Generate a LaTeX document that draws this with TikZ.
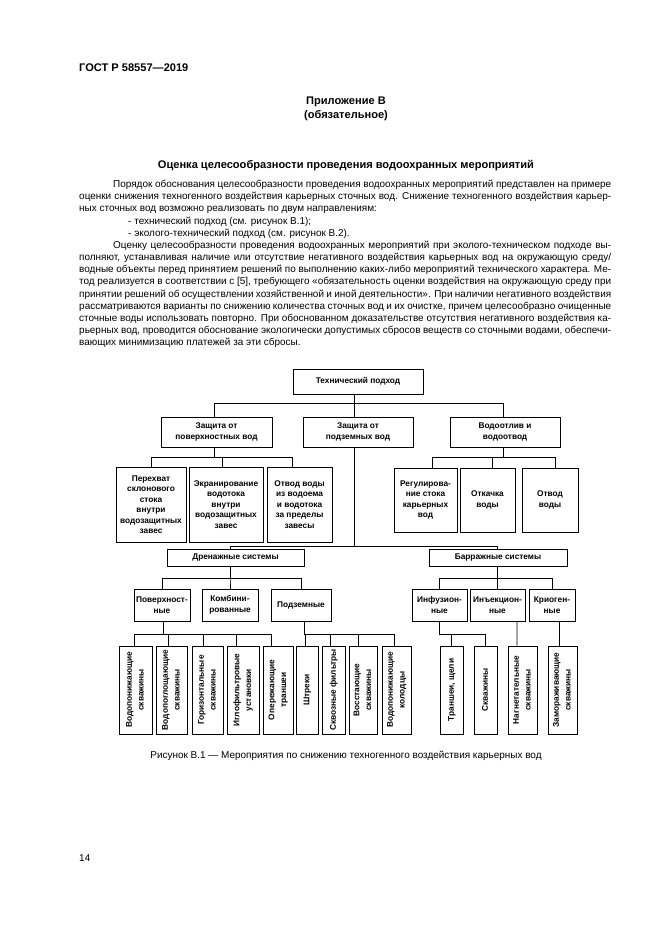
\documentclass[tikz,border=0pt]{standalone}
\usepackage{fontspec}
\setmainfont{Liberation Sans}
\usetikzlibrary{positioning,calc}

\newdimen\px \px=0.3177mm
\newcommand{\vlabel}[1]{\rotatebox{90}{\def\arraystretch{1.12}\begin{tabular}{@{}c@{}}#1\end{tabular}}}

\tikzset{
  box/.style={draw, line width=0.6pt, inner sep=0pt, align=center,
    font=\fontsize{7.5}{9.5}\selectfont\bfseries},
  sz/.style 2 args={minimum width=#1*\px, minimum height=#2*\px},
  link/.style={line width=0.6pt},
  page/.style={inner sep=0pt, font=\fontsize{9}{11}\selectfont},
  head/.style={inner sep=0pt, font=\fontsize{10}{12.6}\selectfont\bfseries},
}

\begin{document}
\begin{tikzpicture}[x=\px, y=-\px]
    \useasboundingbox (0,0) rectangle (661,935);

    % Page text
    \node[head, anchor=west] (gost) at (79,68) {ГОСТ Р 58557—2019};
    \node[head, align=center] (app) at (346,109) {Приложение В\\(обязательное)};
    \node[head] (title) at (346,166) {Оценка целесообразности проведения водоохранных мероприятий};
    \node[page, anchor=north west, text width=532\px, align=justify] (body) at (79,180) {%
      \hspace*{34\px}Порядок обоснования целесообразности проведения водоохранных мероприятий представлен на примере\linebreak
      оценки снижения техногенного воздействия карьерных сточных вод. Снижение техногенного воздействия карьер-\linebreak
      ных сточных вод возможно реализовать по двум направлениям:\par
      \hspace*{49\px}- технический подход (см. рисунок В.1);\par
      \hspace*{49\px}- эколого-технический подход (см. рисунок В.2).\par
      \hspace*{34\px}Оценку целесообразности проведения водоохранных мероприятий при эколого-техническом подходе вы-\linebreak
      полняют, устанавливая наличие или отсутствие негативного воздействия карьерных вод на окружающую среду/\linebreak
      водные объекты перед принятием решений по выполнению каких-либо мероприятий технического характера. Ме-\linebreak
      тод реализуется в соответствии с [5], требующего «обязательность оценки воздействия на окружающую среду при\linebreak
      принятии решений об осуществлении хозяйственной и иной деятельности». При наличии негативного воздействия\linebreak
      рассматриваются варианты по снижению количества сточных вод и их очистке, причем целесообразно очищенные\linebreak
      сточные воды использовать повторно. При обоснованном доказательстве отсутствия негативного воздействия ка-\linebreak
      рьерных вод, проводится обоснование экологически допустимых сбросов веществ со сточными водами, обеспечи-\linebreak
      вающих минимизацию платежей за эти сбросы.};

    % Levels 1 and 2
    \node[box, sz={130}{25}] (tech) at (358,381.5) {Технический подход};
    \node[box, sz={111}{30}] (zpov) at (216.5,432) {Защита от\\поверхностных вод};
    \node[box, sz={110}{30}] (zpod) at (358,432) {Защита от\\подземных вод};
    \node[box, sz={110}{30}] (vodo) at (505,432) {Водоотлив и\\водоотвод};

    % Level 3
    \node[box, sz={70}{75}] (L1) at (151,504.5) {Перехват\\склонового\\стока\\внутри\\водозащитных\\завес};
    \node[box, sz={74}{75}] (L2) at (226,504.5) {Экранирование\\водотока\\внутри\\водозащитных\\завес};
    \node[box, sz={65}{75}] (L3) at (299.5,504.5) {Отвод воды\\из водоема\\и водотока\\за пределы\\завесы};
    \node[box, sz={63}{64}] (R1) at (425.5,500) {Регулирова-\\ние стока\\карьерных\\вод};
    \node[box, sz={55}{64}] (R2) at (487.5,500) {Откачка\\воды};
    \node[box, sz={56}{64}] (R3) at (550,500) {Отвод\\воды};

    % Level 4 and 5
    \node[box, sz={137}{17}] (dren) at (235.5,557.5) {Дренажные системы};
    \node[box, sz={138}{17}] (barr) at (498,557.5) {Барражные системы};
    \node[box, sz={56}{32}] (pov) at (162,605) {Поверхност-\\ные};
    \node[box, sz={56}{32}] (komb) at (230,605) {Комбини-\\рованные};
    \node[box, sz={60}{32}] (podz) at (301,605) {Подземные};
    \node[box, sz={55}{32}] (inf) at (439.5,605) {Инфузион-\\ные};
    \node[box, sz={55}{32}] (inj) at (497.5,605) {Инъекцион-\\ные};
    \node[box, sz={46}{32}] (krio) at (552,605) {Криоген-\\ные};

    % Level 6 (vertical text)
    \node[box, sz={33}{88}] (v1) at (135.5,690) {\vlabel{Водопонижающие\\скважины}};
    \node[box, sz={31}{88}] (v2) at (171.5,690) {\vlabel{Водопоглощающие\\скважины}};
    \node[box, sz={31}{88}] (v3) at (207.5,690) {\vlabel{Горизонтальные\\скважины}};
    \node[box, sz={32}{88}] (v4) at (243,690) {\vlabel{Иглофильтровые\\установки}};
    \node[box, sz={30}{88}] (v5) at (278,690) {\vlabel{Опережающие\\траншеи}};
    \node[box, sz={22}{88}] (v6) at (307,690) {\vlabel{Штреки}};
    \node[box, sz={23}{88}] (v7) at (333.5,690) {\vlabel{Сквозные фильтры}};
    \node[box, sz={28}{88}] (v8) at (363,690) {\vlabel{Восстающие\\скважины}};
    \node[box, sz={29}{88}] (v9) at (396.5,690) {\vlabel{Водопонижающие\\колодцы}};
    \node[box, sz={23}{88}] (v10) at (451.5,690) {\vlabel{Траншеи, щели}};
    \node[box, sz={23}{88}] (v11) at (485.5,690) {\vlabel{Скважины}};
    \node[box, sz={29}{88}] (v12) at (522.5,690) {\vlabel{Нагнетательные\\скважины}};
    \node[box, sz={29}{88}] (v13) at (562.5,690) {\vlabel{Замораживающие\\скважины}};

    % Connectors
    \draw[link] ($(tech.south)+(-4,0)$) -- ++(0,9) -| ($(zpov.north)+(-2.5,0)$);
    \draw[link] ($(tech.south)+(-4,0)$) -- ($(zpod.north)+(-4,0)$);
    \draw[link] ($(tech.south)+(-4,0)$) -- ++(0,9) -| ($(vodo.north)+(-2,0)$);
    \foreach \n/\dx in {L1/0, L2/-4, L3/-7.5}
      \draw[link] ($(zpov.south)+(-2.5,0)$) -- ++(0,10) -| ($(\n.north)+(\dx,0)$);
    \foreach \n/\dx in {R1/6.5, R2/4.5, R3/5}
      \draw[link] ($(vodo.south)+(-2,0)$) -- ++(0,10) -| ($(\n.north)+(\dx,0)$);
    \foreach \n/\dx in {dren/-5.5, barr/-1}
      \draw[link] ($(zpod.south)+(-4,0)$) -- ++(0,99) -| ($(\n.north)+(\dx,0)$);
    \foreach \n in {pov, komb, podz}
      \draw[link] ($(dren.south)+(-5.5,0)$) -- ++(0,12) -| (\n.north);
    \foreach \n in {inf, inj, krio}
      \draw[link] ($(barr.south)+(-1,0)$) -- ++(0,12) -| (\n.north);
    \foreach \n/\dx in {v1/-1.5, v2/-3.5, v3/-4.5, v4/-7, v5/-7}
      \draw[link] ($(pov.south)+(1,0)$) -- ++(0,13) -| ($(\n.north)+(\dx,0)$);
    \foreach \n/\dx in {v6/-2, v7/-3.5, v8/-5, v9/-2.5}
      \draw[link] ($(podz.south)+(3,0)$) -- ++(0,13) -| ($(\n.north)+(\dx,0)$);
    \foreach \n in {v10, v11}
      \draw[link] (inf.south) -- ++(0,13) -| (\n.north);
    \draw[link] ($(inj.south)+(19.5,0)$) -- ($(v12.north)+(-5.5,0)$);
    \draw[link] ($(krio.south)+(7,0)$) -- ($(v13.north)+(-3.5,0)$);

    % Caption and page number
    \node[page] (cap) at (346,756) {Рисунок В.1 — Мероприятия по снижению техногенного воздействия карьерных вод};
    \node[page, anchor=west] (pnum) at (79,858) {14};
\end{tikzpicture}
\end{document}
